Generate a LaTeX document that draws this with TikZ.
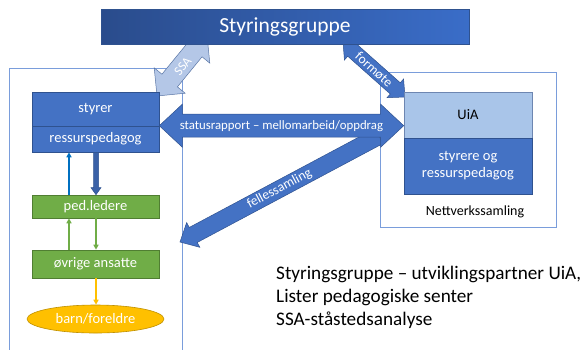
\documentclass[tikz,border=0pt]{standalone}
\usepackage{fontspec}
\setmainfont{Carlito}
\usetikzlibrary{calc,shapes.geometric,arrows.meta}
\definecolor{bluefill}{HTML}{4472C4}
\definecolor{blueedge}{HTML}{2F528F}
\definecolor{lightbl}{HTML}{B4C7E7}
\definecolor{uiafill}{HTML}{A9C5E9}
\definecolor{framecol}{HTML}{7A9DDB}
\definecolor{greenfill}{HTML}{70AD47}
\definecolor{greenedge}{HTML}{507E32}
\definecolor{goldfill}{HTML}{FFC000}
\definecolor{goldedge}{HTML}{BF9000}
\definecolor{arrowblue}{HTML}{0070C0}
\definecolor{titleL}{HTML}{2A4C8C}
\definecolor{titleR}{HTML}{3A6DC8}
\newcommand{\blockdbl}[6]{%
 \coordinate (ba-h1) at ($(#2)!#6!(#3)$);
 \coordinate (ba-h2) at ($(#3)!#6!(#2)$);
 \filldraw[#1] (#2) -- ($(ba-h1)!#5!90:(#3)$) -- ($(ba-h1)!#4!90:(#3)$) -- ($(ba-h2)!#4!-90:(#2)$) -- ($(ba-h2)!#5!-90:(#2)$) -- (#3) -- ($(ba-h2)!#5!90:(#2)$) -- ($(ba-h2)!#4!90:(#2)$) -- ($(ba-h1)!#4!-90:(#3)$) -- ($(ba-h1)!#5!-90:(#3)$) -- cycle;}
\newcommand{\blocksgl}[6]{%
 \coordinate (ba-h2) at ($(#3)!#6!(#2)$);
 \filldraw[#1] ($(#2)!#4!90:(#3)$) -- ($(ba-h2)!#4!-90:(#2)$) -- ($(ba-h2)!#5!-90:(#2)$) -- (#3) -- ($(ba-h2)!#5!90:(#2)$) -- ($(ba-h2)!#4!90:(#2)$) -- ($(#2)!#4!-90:(#3)$) -- cycle;}
\tikzset{
 frame/.style={draw=framecol,line width=0.7pt},
 boxfont/.style={font=\fontsize{14.5}{17}\selectfont},
 bluebox/.style={draw=blueedge,fill=bluefill,line width=0.6pt,text=white,inner sep=0pt,minimum width=127pt,boxfont,align=center},
 greenbox/.style={draw=greenedge,fill=greenfill,line width=0.6pt,text=white,inner sep=0pt,minimum width=127pt,boxfont},
 barrow/.style={fill=bluefill,draw=blueedge,line width=0.5pt},
 larrow/.style={fill=lightbl,draw=blueedge!80,line width=0.5pt},
 alabel/.style={text=white,font=\fontsize{13.5}{15}\selectfont,inner sep=0pt},
 thin arrow/.style={line width=1.3pt,-{Triangle[length=5pt,width=5pt]}},
}
\begin{document}
\begin{tikzpicture}[x=1pt,y=-1pt]
\useasboundingbox (0,0) rectangle (585,349);
% frames
\draw[frame] (9,352) -- (9,68) -- (182,68) -- (182,352);
\draw[frame] (380,72) rectangle (556,227);
% named tips
\coordinate (ssaA) at (157,96);
\coordinate (ssaB) at (207,35);
\coordinate (forA) at (343,42);
\coordinate (forB) at (405,97);
\coordinate (felT) at (379,136);
\coordinate (felH) at (180,242);
% block arrows
\blockdbl{larrow}{ssaA}{ssaB}{10pt}{20pt}{20pt}
\path (ssaA) -- (ssaB) node[alabel,midway,rotate=50.7,yshift=-1pt,font=\fontsize{13}{15}\selectfont] (ssalbl) {SSA};
\blockdbl{barrow}{forA}{forB}{7.5pt}{12.5pt}{13pt}
\path (forA) -- (forB) node[alabel,midway,rotate=-41.6] (forlbl) {formøte};
\blocksgl{barrow}{felT}{felH}{8.5pt}{14pt}{15pt}
\path (felT) -- (felH) node[alabel,midway,rotate=28] (fellbl) {fellessamling};
% boxes
\node[draw=blueedge,line width=0.6pt,left color=titleL,right color=titleR,minimum width=368pt,minimum height=35pt,inner sep=0pt,text=white,font=\fontsize{21.5}{24}\selectfont] (title) at (285,26.5) {Styringsgruppe};
\node[bluebox,minimum height=34pt] (sty) at (95.5,109) {styrer};
\node[bluebox,minimum height=26pt] (res) at (95.5,139) {ressurspedagog};
\node[draw=blueedge!70,fill=uiafill,line width=0.6pt,inner sep=0pt,minimum width=128pt,minimum height=46pt,boxfont] (uia) at (468,115) {UiA};
\node[bluebox,minimum width=128pt,minimum height=56pt] (sog) at (468,166) {styrere og\\ressurspedagog};
\node[font=\fontsize{14}{16}\selectfont,inner sep=0pt] (nett) at (475,212) {Nettverkssamling};
% statusrapport arrow
\coordinate (stA) at (res.north east);
\coordinate (stB) at (uia.west |- res.north east);
\blockdbl{barrow}{stA}{stB}{11.5pt}{21.5pt}{23pt}
\path (stA) -- (stB) node[alabel,midway,font=\fontsize{12.8}{14}\selectfont] (stlbl) {statusrapport – mellomarbeid/oppdrag};
% green boxes and ellipse
\node[greenbox,minimum height=23pt] (ped) at (95.5,206.5) {ped.ledere};
\node[greenbox,minimum height=28pt] (ovr) at (95.5,264) {øvrige ansatte};
\node[ellipse,draw=goldedge,fill=goldfill,line width=0.6pt,inner sep=0pt,minimum width=137pt,minimum height=28pt,text=white,boxfont] (barn) at (95.5,319) {barn/foreldre};
% vertical arrows
\draw[thin arrow,arrowblue] (ped.north -| 69,0) -- (res.south -| 69,0);
\coordinate (dnA) at (res.south -| 96,0);
\coordinate (dnB) at (ped.north -| 96,0);
\blocksgl{barrow,fill=bluefill!85!black}{dnA}{dnB}{2.5pt}{5pt}{7pt}
\draw[thin arrow,greenfill] (ovr.north -| 69,0) -- (ped.south -| 69,0);
\draw[thin arrow,greenfill] (ped.south -| 96,0) -- (ovr.north -| 96,0);
\draw[thin arrow,goldfill] (ovr.south -| 96,0) -- (barn.north -| 96,0);
% legend text
\node[anchor=base west,align=left,inner sep=0pt,font=\fontsize{19.2}{23}\selectfont] (leg) at (276,325) {Styringsgruppe – utviklingspartner UiA,\\Lister pedagogiske senter\\SSA-ståstedsanalyse};
\end{tikzpicture}
\end{document}
